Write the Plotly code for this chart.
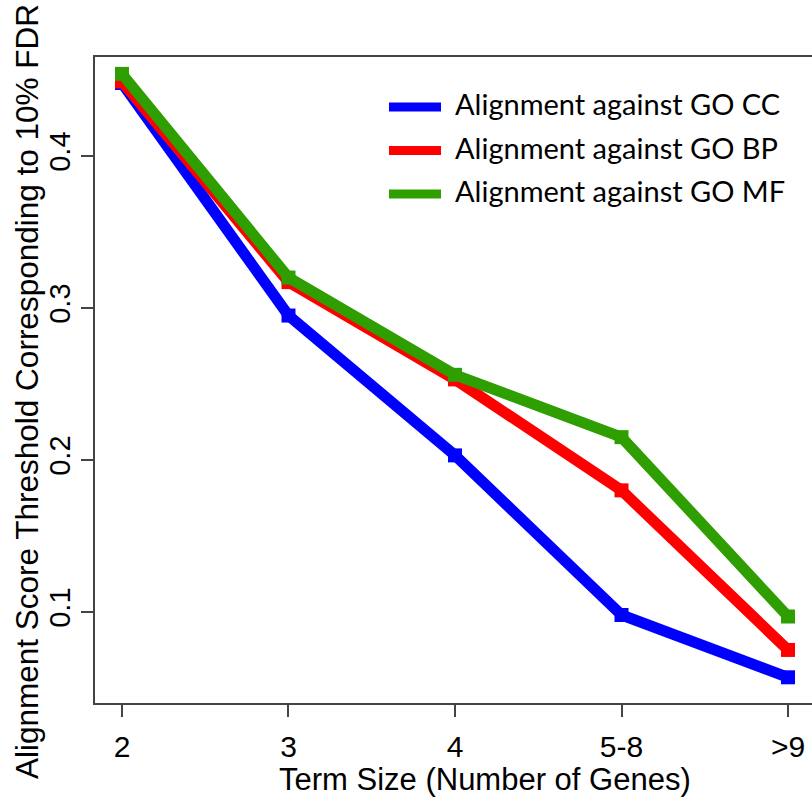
import plotly.graph_objects as go

categories = ["2", "3", "4", "5-8", ">9"]
cc_values = [0.448, 0.295, 0.203, 0.098, 0.057]
bp_values = [0.449, 0.317, 0.253, 0.180, 0.075]
mf_values = [0.454, 0.320, 0.256, 0.215, 0.097]
series_names = ["Alignment against GO CC", "Alignment against GO BP", "Alignment against GO MF"]
series_colors = ["#0000FF", "#FF0000", "#2E9E00"]
y_tick_values = [0.1, 0.2, 0.3, 0.4]
y_tick_labels = ["0.1", "0.2", "0.3", "0.4"]
x_title = "Term Size (Number of Genes)"
y_title = "Alignment Score Threshold Corresponding to 10% FDR"

x_pos = list(range(len(categories)))
AXFONT = "Liberation Sans, Arial, sans-serif"

fig = go.Figure()
for vals, name, col in zip([cc_values, bp_values, mf_values], series_names, series_colors):
    fig.add_trace(go.Scatter(
        x=x_pos, y=vals, mode="lines+markers", name=name,
        line=dict(color=col, width=11),
        marker=dict(symbol="square", size=14, color=col),
        showlegend=False,
    ))

# layout helpers (pixel -> paper)
W, L, T, B = 812, 95, 57, 703
def px(p):
    return (p - L) / (W - L)
def py(q):
    return (B - q) / (B - T)

shapes = []
annotations = []
# manual legend (R-style)
for i, (name, col) in enumerate(zip(series_names, series_colors)):
    yy = py(107 + i * 43.5)
    shapes.append(dict(type="line", xref="paper", yref="paper",
                       x0=px(389), x1=px(441), y0=yy, y1=yy,
                       line=dict(color=col, width=9)))
    annotations.append(dict(xref="paper", yref="paper", x=px(453), y=py(104 + i * 43.5),
                            text=name, showarrow=False, xanchor="left", yanchor="middle",
                            font=dict(family="Lato, sans-serif", size=29, color="black")))

# axis titles
annotations.append(dict(xref="paper", yref="paper", x=px(485), y=py(779),
                        text=x_title, showarrow=False, xanchor="center", yanchor="middle",
                        font=dict(family=AXFONT, size=31, color="black")))
annotations.append(dict(xref="paper", yref="paper", x=px(27), y=py(392),
                        text=y_title, showarrow=False, xanchor="center", yanchor="middle",
                        textangle=-90,
                        font=dict(family=AXFONT, size=31.5, color="black")))

fig.update_layout(
    width=812, height=799,
    margin=dict(l=L, r=0, t=T, b=799 - B),
    plot_bgcolor="white", paper_bgcolor="white",
    shapes=shapes, annotations=annotations,
    xaxis=dict(
        range=[-0.162, 4.144],
        tickmode="array", tickvals=x_pos, ticktext=categories,
        showgrid=False, zeroline=False,
        showline=True, linecolor="#444444", linewidth=1.5, mirror=True,
        ticks="outside", ticklen=12, tickcolor="#444444", tickwidth=1.5,
        tickfont=dict(family=AXFONT, size=30, color="black"),
        ticklabelstandoff=4,
    ),
    yaxis=dict(
        range=[0.0401, 0.4651],
        tickmode="array", tickvals=y_tick_values, ticktext=y_tick_labels,
        tickangle=-90,
        showgrid=False, zeroline=False,
        showline=True, linecolor="#444444", linewidth=1.5, mirror=False,
        ticks="outside", ticklen=12, tickcolor="#444444", tickwidth=1.5,
        tickfont=dict(family=AXFONT, size=29, color="black"),
    ),
)

fig.write_html("out.html")
